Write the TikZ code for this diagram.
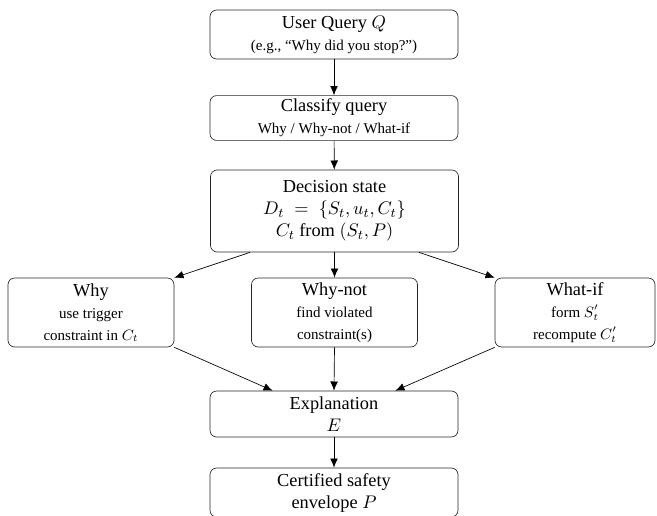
\documentclass[tikz,border=0pt]{standalone}
\usepackage{fontspec}
\setmainfont{Liberation Serif}
\usetikzlibrary{arrows.meta,positioning}

\begin{document}
\begin{tikzpicture}[x=0.6pt,y=-0.6pt,font=\fontsize{11}{13.2}\selectfont,
  box/.style={draw=black!85,fill=white,rounded corners=4pt,minimum width=148.8pt,
              align=center,inner sep=2pt},
  opt/.style={box,minimum width=99.6pt},
  arr/.style={-{Latex[length=5.5pt,width=4.6pt]},draw=black}]
\useasboundingbox (0,0) rectangle (657,515);

\node[box,minimum height=29.4pt](q) at (334,34.5){User Query $Q$\\{\small (e.g., ``Why did you stop?'')}};
\node[box,minimum height=25.2pt](cls) at (334,118){Classify query\\{\small Why / Why-not / What-if}};
\node[box,minimum height=49.2pt](dec) at (334.5,211){Decision state\\$D_t\;=\;\{S_t,u_t,C_t\}$\\$C_t$ from $(S_t,P)$};

\node[opt,minimum height=41.4pt](why) at (91,312.5){Why\\{\small use trigger}\\{\small constraint in $C_t$}};
\node[opt,minimum height=41.4pt](whynot) at (334.5,312.5){Why-not\\{\small find violated}\\{\small constraint(s)}};
\node[opt,minimum width=96pt,minimum height=41.4pt](whatif) at (575,312.5){What-if\\{\small form $S_t'$}\\{\small recompute $C_t'$}};

\node[box,minimum height=27.6pt](expl) at (334,414){Explanation\\$E$};
\node[box,minimum height=29.4pt](cert) at (334,492.5){Certified safety\\envelope $P$};

\draw[arr](q)--(cls); \draw[arr](cls)--(dec);
\draw[arr]([xshift=24pt]dec.south west)--(why.north east);
\draw[arr](dec.south)--(whynot.north);
\draw[arr]([xshift=-24pt]dec.south east)--(whatif.north west);
\draw[arr](why.south east)--([xshift=37.8pt]expl.north west);
\draw[arr](whynot.south)--(expl.north);
\draw[arr](whatif.south west)--([xshift=-37.8pt]expl.north east);
\draw[arr](expl)--(cert);
\end{tikzpicture}
\end{document}
